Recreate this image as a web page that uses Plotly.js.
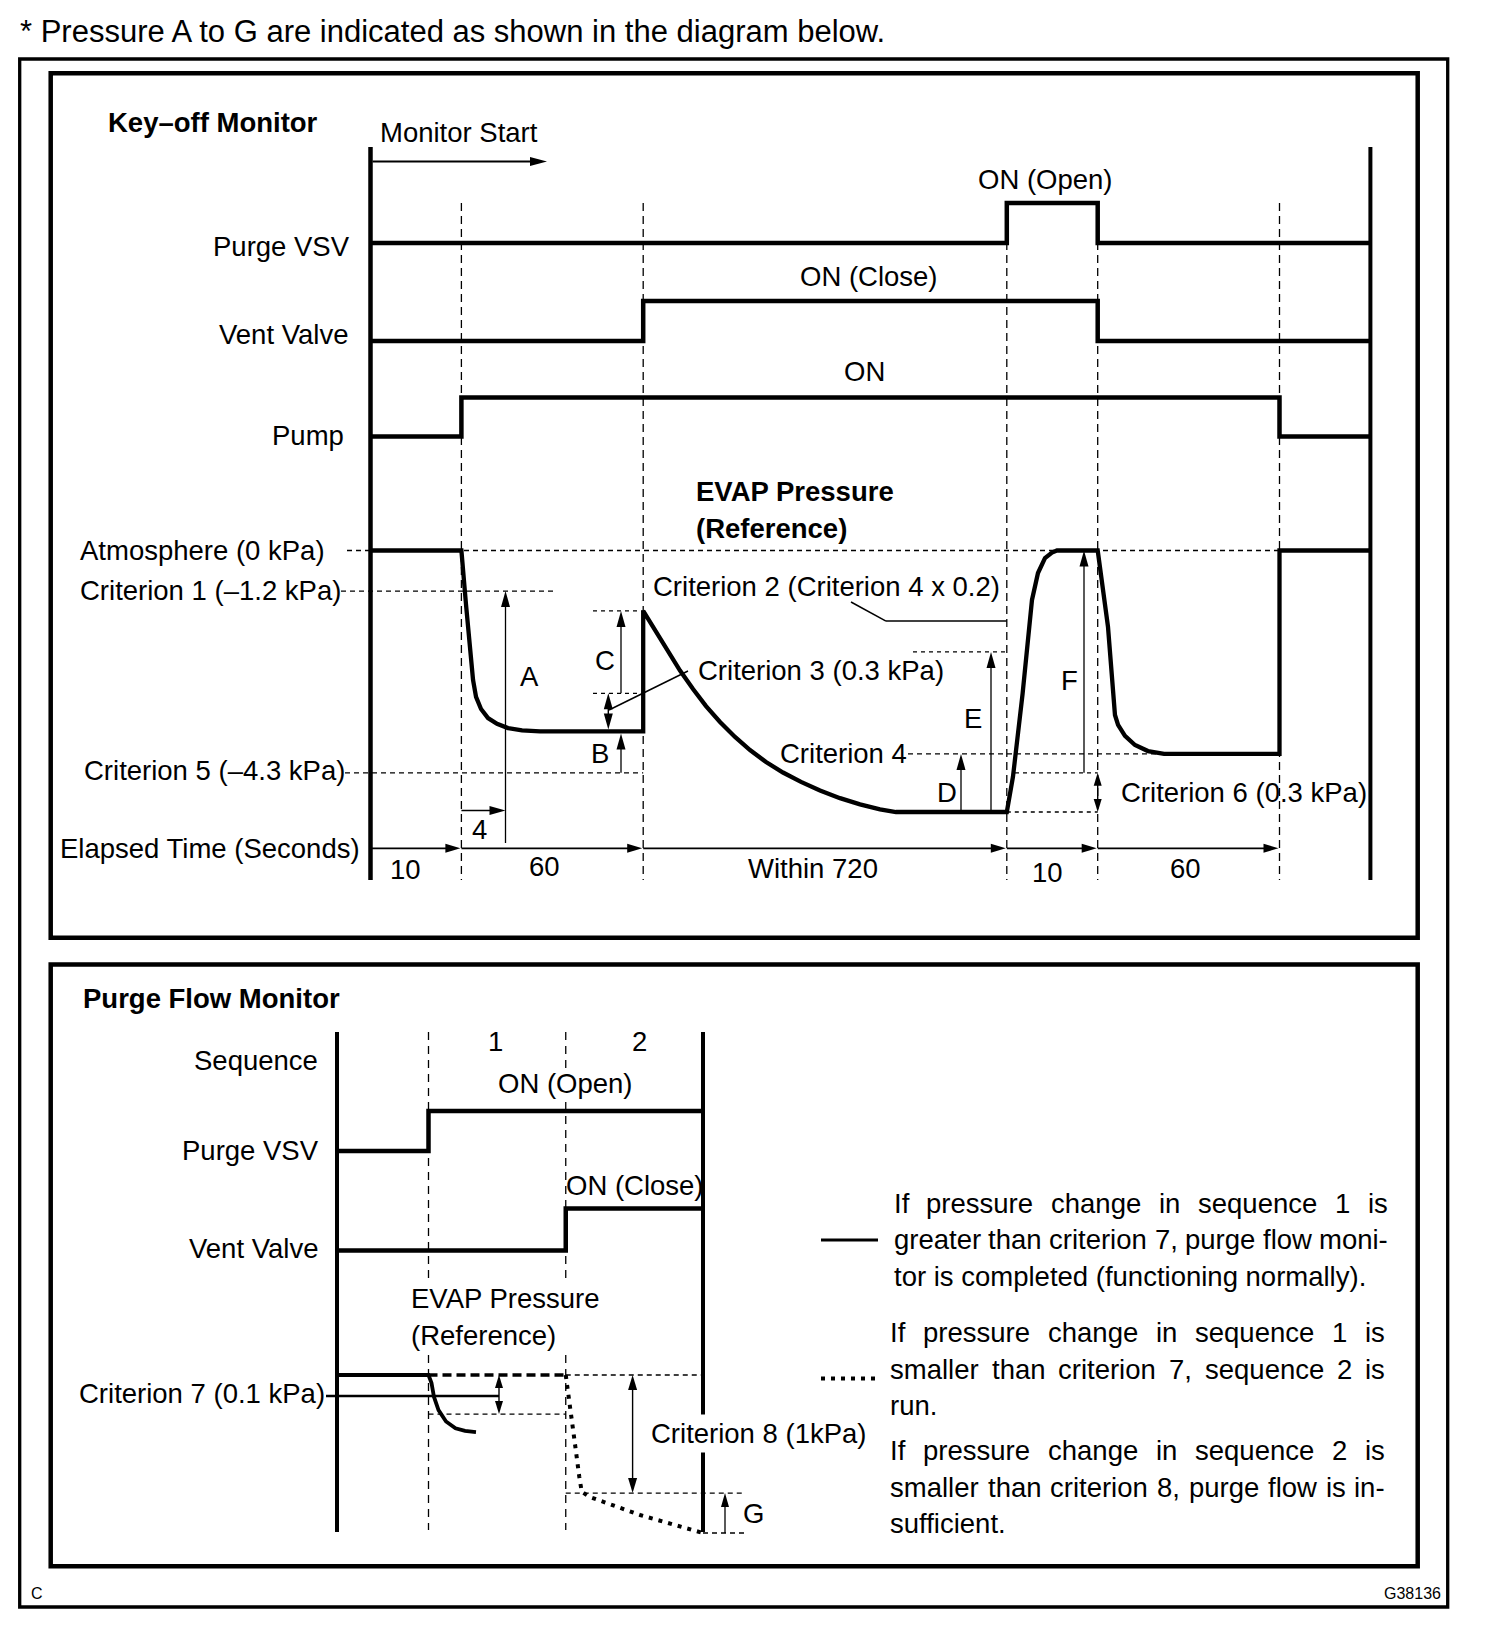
<!DOCTYPE html>
<html><head><meta charset="utf-8">
<script src="https://cdn.plot.ly/plotly-3.0.1.min.js"></script>
<style>html,body{margin:0;padding:0;background:#fff}#chart{width:1504px;height:1650px}</style>
</head><body><div id="chart"></div>
<script>
// ================= DATA =================
// Key-off monitor: schematic time units (phase boundaries drawn as dashed lines)
const keyoffPhaseEdges = [0, 1, 3, 7, 8, 10, 11];
const elapsedLabels = ['10', '60', 'Within 720', '10', '60'];
const elapsedLabelT = [0.39, 1.91, 4.87, 7.45, 8.97];
const elapsedLabelY = [870, 866, 869, 873, 869];
// signal states (0 = off, 1 = on)
const purgeT = [0, 7, 8, 11];
const purgeState = [0, 1, 0, 0];
const ventT = [0, 3, 8, 11];
const ventState = [0, 1, 0, 0];
const pumpT = [0, 1, 10, 11];
const pumpState = [0, 1, 0, 0];
// EVAP pressure (schematic relative level: 0 = atmosphere, -100 = lowest reading)
const evapT = [0, 1.0, 1.051, 1.095, 1.128, 1.161, 1.216, 1.293, 1.392, 1.513, 1.667, 1.865, 3.0,
  3.0, 3.13, 3.262, 3.405, 3.548, 3.691, 3.845, 4.01, 4.175, 4.351, 4.538, 4.736, 4.945, 5.165, 5.385, 5.605, 5.781, 7.0,
  7.068, 7.174, 7.277, 7.343, 7.42, 7.497, 7.552, 8.0,
  8.113, 8.19, 8.224, 8.30, 8.41, 8.553, 8.73, 10.0, 10.0, 11.0];
const evapP = [0, 0, -20.8, -38.0, -49.5, -56.0, -60.6, -64.1, -66.3, -67.9, -68.8, -69.2, -69.2,
  -23.1, -30.6, -38.1, -45.9, -53.0, -59.5, -65.6, -71.3, -76.3, -80.9, -84.9, -88.5, -91.8, -94.7, -97.1, -99.0, -100, -100,
  -86.5, -54.7, -18.9, -8.6, -2.9, -0.8, 0, 0,
  -29.1, -62.9, -66.7, -70.9, -74.4, -76.7, -77.8, -77.8, 0, 0];
// reference levels
const levelAtm = 0, levelCrit1 = -15.5, levelCrit5 = -85, levelCtop = -23.1, levelCbot = -54.6;
const levelFlat1 = -69.2, levelCrit2 = -27, levelE = -38.8, levelCrit4 = -77.8, levelCrit6 = -85, levelLow = -100;

// Purge flow monitor
const purgeFlowEdges = [0, 2, 5, 8];
const seqLabels = ['1', '2'];
const seqLabelT = [3.46, 6.62];
const purge2T = [0, 2, 8];
const purge2State = [0, 1, 1];
const vent2T = [0, 5, 8];
const vent2State = [0, 1, 1];
const normalT = [0, 2.0, 2.066, 2.12, 2.219, 2.383, 2.59, 2.798, 3.038];
const normalP = [0, 0, -5.1, -13.9, -22.2, -29.4, -33.7, -35.4, -36.1];
const insuffFlatT = [2.0, 5.0];
const insuffFlatP = [0, 0];
const insuffT = [5.0, 5.08, 5.19, 5.296, 5.349, 5.508, 6.623, 8.0];
const insuffP = [0, -15.8, -41.1, -64.4, -73.9, -77.0, -88.6, -100];
const level7Line = -13.3, level7Low = -24.7, level8 = -74.7, levelG = -100;

const noteLines = [
  ['If pressure change in sequence 1 is', 'greater than criterion 7, purge flow moni-', 'tor is completed (functioning normally).'],
  ['If pressure change in sequence 1 is', 'smaller than criterion 7, sequence 2 is', 'run.'],
  ['If pressure change in sequence 2 is', 'smaller than criterion 8, purge flow is in-', 'sufficient.']
];

// ================= LAYOUT HELPERS =================
const W = 1504, H = 1650;
const FONT = '"Liberation Sans", Arial, Helvetica, sans-serif';
const FS = 27.5;
const X = px => px / W;
const Y = py => 1 - py / H;
// upper panel scales (pixels)
const KX0 = 370.5, KXU = 90.9, KP0 = 550.5, KPU = 2.615;
const ux = t => KX0 + KXU * t;
const up = v => KP0 - KPU * v;
// lower panel scales
const LX0 = 337, LXU = 45.75, LP0 = 1375, LPU = 1.58;
const lx = t => LX0 + LXU * t;
const lp = v => LP0 - LPU * v;
function yRange(zeroPx, pxPerUnit) { return [(zeroPx - H) / pxPerUnit, zeroPx / pxPerUnit]; }

const shapes = [];
const ann = [];
function L(x0, y0, x1, y1, w, dash, layer) {
  shapes.push({type: 'line', xref: 'paper', yref: 'paper', x0: X(x0), y0: Y(y0), x1: X(x1), y1: Y(y1),
    line: {color: '#000', width: w, dash: dash || 'solid'}, layer: layer || 'above'});
}
function R(x0, y0, x1, y1, w) {
  shapes.push({type: 'rect', xref: 'paper', yref: 'paper', x0: X(x0), y0: Y(y0), x1: X(x1), y1: Y(y1),
    line: {color: '#000', width: w}, fillcolor: 'rgba(0,0,0,0)', layer: 'above'});
}
function head(tx, ty, dir, len, wid) {
  len = len || 15; wid = wid || 9;
  let p;
  if (dir === 'up') p = [[tx, ty], [tx - wid / 2, ty + len], [tx + wid / 2, ty + len]];
  else if (dir === 'down') p = [[tx, ty], [tx - wid / 2, ty - len], [tx + wid / 2, ty - len]];
  else if (dir === 'right') p = [[tx, ty], [tx - len, ty - wid / 2], [tx - len, ty + wid / 2]];
  else p = [[tx, ty], [tx + len, ty - wid / 2], [tx + len, ty + wid / 2]];
  const path = 'M' + p.map(q => X(q[0]).toFixed(6) + ',' + Y(q[1]).toFixed(6)).join('L') + 'Z';
  shapes.push({type: 'path', xref: 'paper', yref: 'paper', path: path, fillcolor: '#000', line: {width: 0}, layer: 'above'});
}
function vArrowUp(x, yFrom, yTip, w, len, wid) {
  len = len || 16; wid = wid || 9;
  L(x, yFrom, x, yTip + len * 0.7, w || 1.4);
  head(x, yTip, 'up', len, wid);
}
function hArrowRight(xFrom, xTip, y, w, len, wid) {
  len = len || 15; wid = wid || 9;
  L(xFrom, y, xTip - len * 0.7, y, w || 1.6);
  head(xTip, y, 'right', len, wid);
}
function dArrow(x, yTop, yBot, len, wid) {
  len = len || 15; wid = wid || 9;
  L(x, yTop + len * 0.7, x, yBot - len * 0.7, 1.4);
  head(x, yTop, 'up', len, wid);
  head(x, yBot, 'down', len, wid);
}
function T(text, x, y, anchor, size, extra) {
  const a = {text: text, xref: 'paper', yref: 'paper', x: X(x), y: Y(y), xanchor: anchor || 'left', yanchor: 'middle',
    showarrow: false, borderpad: 0, font: {family: FONT, size: size || FS, color: '#000'}};
  if (extra) Object.assign(a, extra);
  ann.push(a);
}
const measCtx = document.createElement('canvas').getContext('2d');
function textWidth(s, size) { measCtx.font = size + 'px "Liberation Sans"'; return measCtx.measureText(s).width; }
function justified(line, left, right, y, size) {
  const words = line.split(' ');
  const widths = words.map(w => textWidth(w, size));
  const total = widths.reduce((a, b) => a + b, 0);
  const gap = (right - left - total) / (words.length - 1);
  let x = left;
  words.forEach((w, i) => { T(w, x, y, 'left', size); x += widths[i] + gap; });
}

// ================= FRAMES =================
R(19.7, 59, 1447.7, 1607, 3.3);
R(50.7, 73.3, 1417.7, 937.7, 4.5);
R(50.7, 964.5, 1417.7, 1566.3, 4.5);

// ================= UPPER PANEL =================
T('* Pressure A to G are indicated as shown in the diagram below.', 19, 31.5, 'left', 31);
T('<b>Key–off Monitor</b>', 107, 122.7, 'left');
T('Monitor Start', 379, 133, 'left');
hArrowRight(ux(0) + 2, 547, 161.5, 1.8, 17, 9);
// axes
L(ux(keyoffPhaseEdges[0]), 147, ux(keyoffPhaseEdges[0]), 880, 4.5);
L(ux(keyoffPhaseEdges[6]), 147, ux(keyoffPhaseEdges[6]), 880, 4);
// phase dashed lines
for (let i = 1; i <= 5; i++) L(ux(keyoffPhaseEdges[i]), 203, ux(keyoffPhaseEdges[i]), 880, 1.3, '8px,5px', 'below');

T('Purge VSV', 351, 246.5, 'right');
T('Vent Valve', 348.5, 335, 'right');
T('Pump', 344.5, 435, 'right');
T('ON (Open)', 1044.5, 179, 'center');
T('ON (Close)', 869, 276.7, 'center');
T('ON', 864, 371.7, 'center');
T('<b>EVAP Pressure</b>', 695, 492, 'left');
T('<b>(Reference)</b>', 695, 529, 'left');

T('Atmosphere (0 kPa)', 79, 550.5, 'left');
T('Criterion 1 (–1.2 kPa)', 79, 590.7, 'left');
T('Criterion 5 (–4.3 kPa)', 83, 770.5, 'left');
L(347, up(levelAtm), ux(10), up(levelAtm), 1.5, '5px,4px', 'below');
L(341, up(levelCrit1), 553, up(levelCrit1), 1.3, '5px,4px', 'below');
L(345, up(levelCrit5), ux(3), up(levelCrit5), 1.3, '5px,4px', 'below');
L(593, up(levelCtop), ux(3), up(levelCtop), 1.3, '4px,4px', 'below');
L(593, up(levelCbot), ux(3), up(levelCbot), 1.3, '4px,4px', 'below');
L(913, up(levelE), ux(7), up(levelE), 1.3, '4px,4px', 'below');
L(908, up(levelCrit4), 1164, up(levelCrit4), 1.3, '5px,4px', 'below');
L(1015, up(levelCrit6), ux(8), up(levelCrit6), 1.3, '4px,4px', 'below');
L(ux(7), up(levelLow), ux(8), up(levelLow), 1.3, '4px,4px', 'below');

// A and "4"
vArrowUp(505.5, 843, up(levelCrit1), 1.3);
hArrowRight(ux(1), 505.5, 810.5, 1.3, 16, 9);
T('A', 529, 676, 'center');
T('4', 479, 829, 'center');
// C, B, criterion 3
vArrowUp(621, up(levelCbot), up(levelCtop), 1.3);
T('C', 605, 660, 'center');
dArrow(608.3, up(levelCbot), up(levelFlat1) - 2, 16, 9);
vArrowUp(621, up(levelCrit5), up(levelFlat1) + 2, 1.3);
T('B', 600, 753.5, 'center');
L(609, 710, 688, 671, 1.5);
T('Criterion 3 (0.3 kPa)', 697, 670.7, 'left');
// criterion 2
T('Criterion 2 (Criterion 4 x 0.2)', 651.5, 587, 'left');
L(851, 602, 886, up(levelCrit2), 1.5);
L(886, up(levelCrit2), ux(7), up(levelCrit2), 1.5);
// D, E, F, criterion 4 / 6
vArrowUp(991, up(levelLow), up(levelE), 1.3);
vArrowUp(961, up(levelLow), up(levelCrit4), 1.3);
vArrowUp(1084, up(levelCrit6), up(levelAtm), 1.3);
dArrow(ux(8), up(levelCrit6), up(levelLow), 13, 8);
T('Criterion 4', 908, 753.5, 'right');
T('D', 947, 792, 'center');
T('E', 973, 718, 'center');
T('F', 1069, 680, 'center');
T('Criterion 6 (0.3 kPa)', 1120, 792, 'left');
// elapsed time
T('Elapsed Time (Seconds)', 361, 848.3, 'right');
for (let i = 0; i < 5; i++) hArrowRight(ux(keyoffPhaseEdges[i]), ux(keyoffPhaseEdges[i + 1]) - 1, 848.3, 1.8, 15, 9);
elapsedLabels.forEach((s, i) => ann.push({text: s, xref: 'x', yref: 'paper', x: elapsedLabelT[i], y: Y(elapsedLabelY[i]),
  xanchor: 'center', yanchor: 'middle', showarrow: false, borderpad: 0, font: {family: FONT, size: FS, color: '#000'}}));

// ================= LOWER PANEL =================
T('<b>Purge Flow Monitor</b>', 81.5, 998.5, 'left');
L(lx(purgeFlowEdges[0]), 1032, lx(purgeFlowEdges[0]), 1532, 4);
L(lx(purgeFlowEdges[3]), 1032, lx(purgeFlowEdges[3]), 1532, 4);
L(lx(purgeFlowEdges[1]), 1032, lx(purgeFlowEdges[1]), 1280, 1.3, '8px,6px', 'below');
L(lx(purgeFlowEdges[1]), 1355, lx(purgeFlowEdges[1]), 1530, 1.3, '8px,6px', 'below');
L(lx(purgeFlowEdges[2]), 1032, lx(purgeFlowEdges[2]), 1068, 1.3, '8px,6px', 'below');
L(lx(purgeFlowEdges[2]), 1102, lx(purgeFlowEdges[2]), 1280, 1.3, '8px,6px', 'below');
L(lx(purgeFlowEdges[2]), 1355, lx(purgeFlowEdges[2]), 1530, 1.3, '8px,6px', 'below');
T('Sequence', 319, 1060, 'right');
seqLabels.forEach((s, i) => ann.push({text: s, xref: 'x2', yref: 'paper', x: seqLabelT[i], y: Y(1041),
  xanchor: 'center', yanchor: 'middle', showarrow: false, borderpad: 0, font: {family: FONT, size: FS, color: '#000'}}));
T('ON (Open)', 565, 1083, 'center');
T('Purge VSV', 320, 1150, 'right');
T('ON (Close)', 635, 1185, 'center');
T('Vent Valve', 319, 1248, 'right');
T('EVAP Pressure', 410, 1298, 'left');
T('(Reference)', 410, 1335, 'left');
T('Criterion 7 (0.1 kPa)', 326, 1393, 'right');
L(326, lp(level7Line), 499, lp(level7Line), 2.5);
dArrow(499, lp(0), lp(level7Low), 13, 8);
L(lx(2), lp(level7Low), lx(5), lp(level7Low), 1.3, '5px,4px', 'below');
L(lx(5), lp(0), lx(8), lp(0), 1.3, '5px,4px', 'below');
dArrow(632.6, lp(0), lp(level8), 15, 9);
L(lx(5), lp(level8), 745, lp(level8), 1.3, '5px,4px', 'below');
L(lx(8), lp(levelG), 745, lp(levelG), 1.3, '5px,4px', 'below');
vArrowUp(725, lp(levelG), lp(level8), 1.3, 14, 8);
T('Criterion 8 (1kPa)', 647, 1433, 'left', FS, {bgcolor: '#fff', borderpad: 3});
T('G', 753, 1513, 'center');

// legend samples + notes
L(821, 1240, 878, 1240, 3);
L(821, 1378.5, 881, 1378.5, 4, '4px,6px');
const noteLeft = [892.5, 889, 889], noteRight = [1387, 1384, 1384], noteY = [1203, 1332.5, 1450.5];
noteLines.forEach((blk, b) => {
  blk.forEach((line, j) => {
    const y = noteY[b] + j * 36.7;
    if (j < blk.length - 1) justified(line, noteLeft[b], noteRight[b], y, FS);
    else T(line, noteLeft[b], y, 'left');
  });
});
T('C', 37, 1593.5, 'center', 16);
T('G38136', 1442, 1593.7, 'right', 16);

// ================= TRACES =================
const base = {mode: 'lines', hoverinfo: 'skip', showlegend: false};
const traces = [
  Object.assign({x: purgeT, y: purgeState, xaxis: 'x', yaxis: 'y', line: {color: '#000', width: 4.5, shape: 'hv'}}, base),
  Object.assign({x: ventT, y: ventState, xaxis: 'x', yaxis: 'y2', line: {color: '#000', width: 4.5, shape: 'hv'}}, base),
  Object.assign({x: pumpT, y: pumpState, xaxis: 'x', yaxis: 'y3', line: {color: '#000', width: 4.5, shape: 'hv'}}, base),
  Object.assign({x: evapT, y: evapP, xaxis: 'x', yaxis: 'y4', line: {color: '#000', width: 4.3}}, base),
  Object.assign({x: purge2T, y: purge2State, xaxis: 'x2', yaxis: 'y5', line: {color: '#000', width: 4.5, shape: 'hv'}}, base),
  Object.assign({x: vent2T, y: vent2State, xaxis: 'x2', yaxis: 'y6', line: {color: '#000', width: 4.5, shape: 'hv'}}, base),
  Object.assign({x: normalT, y: normalP, xaxis: 'x2', yaxis: 'y7', line: {color: '#000', width: 3.8}}, base),
  Object.assign({x: insuffFlatT, y: insuffFlatP, xaxis: 'x2', yaxis: 'y7', line: {color: '#000', width: 3.5, dash: '9px,5px'}}, base),
  Object.assign({x: insuffT, y: insuffP, xaxis: 'x2', yaxis: 'y7', line: {color: '#000', width: 4, dash: '4px,6px'}}, base)
];

const ax = {visible: false, fixedrange: true, showgrid: false, zeroline: false, domain: [0, 1]};
const layout = {
  width: W, height: H, margin: {l: 0, r: 0, t: 0, b: 0, pad: 0}, autosize: false,
  paper_bgcolor: '#fff', plot_bgcolor: 'rgba(0,0,0,0)', showlegend: false,
  xaxis: Object.assign({}, ax, {range: [(0 - KX0) / KXU, (W - KX0) / KXU]}),
  xaxis2: Object.assign({}, ax, {range: [(0 - LX0) / LXU, (W - LX0) / LXU], overlaying: 'x'}),
  yaxis: Object.assign({}, ax, {range: yRange(243, 40)}),
  yaxis2: Object.assign({}, ax, {range: yRange(341, 40), overlaying: 'y'}),
  yaxis3: Object.assign({}, ax, {range: yRange(436.5, 39), overlaying: 'y'}),
  yaxis4: Object.assign({}, ax, {range: yRange(KP0, KPU), overlaying: 'y'}),
  yaxis5: Object.assign({}, ax, {range: yRange(1151, 40), overlaying: 'y'}),
  yaxis6: Object.assign({}, ax, {range: yRange(1250.5, 42), overlaying: 'y'}),
  yaxis7: Object.assign({}, ax, {range: yRange(LP0, LPU), overlaying: 'y'}),
  shapes: shapes,
  annotations: ann
};
Plotly.newPlot('chart', traces, layout, {staticPlot: true, displayModeBar: false});
</script>
</body></html>
